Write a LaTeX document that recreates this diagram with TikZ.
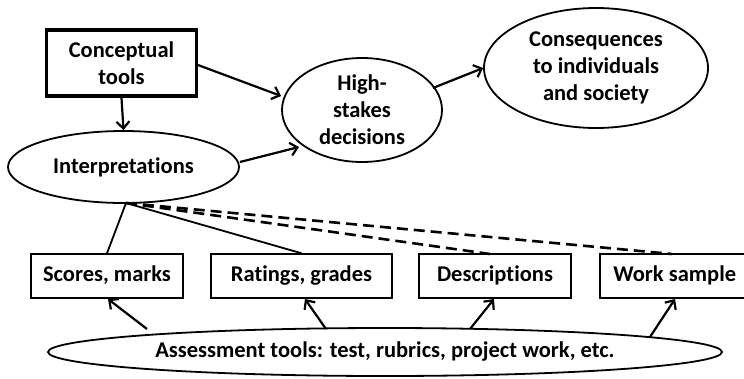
\documentclass[tikz,border=0pt]{standalone}
\usepackage{fontspec}
\setmainfont{Carlito}[Ligatures={NoCommon}]
\usetikzlibrary{shapes.geometric,arrows.meta}
\begin{document}
\begin{tikzpicture}[x=1pt,y=-1pt,
  font=\bfseries\fontsize{22.5}{27}\selectfont,
  ell/.style={draw, ellipse, line width=1.8pt, inner sep=0pt, align=center},
  box/.style={draw, rectangle, line width=1.5pt, inner sep=0pt, minimum height=44, text height=16pt, text depth=5pt},
  arr/.style={line width=2.2pt, -{Straight Barb[length=7pt,width=13pt,line width=2.2pt]}},
  conn/.style={line width=1.8pt},
  dconn/.style={line width=2.6pt, dash pattern=on 11pt off 6pt}]
\useasboundingbox (0,0) rectangle (744,378);
\fill[white] (0,0) rectangle (744,378);
\node[draw, line width=3.8pt, minimum width=150, minimum height=66, align=center, inner sep=0pt] (ct) at (121.5,63) {Conceptual\\tools};
\node[ell, minimum width=231, minimum height=72] (int) at (123.5,167) {Interpretations};
\node[ell, minimum width=160, minimum height=104] (hs) at (362,110) {High-\\stakes\\decisions};
\node[ell, minimum width=224, minimum height=120] (cons) at (596,68) {Consequences\\to individuals\\and society};
\node[box, minimum width=152] (sc) at (107,276) {Scores, marks};
\node[box, minimum width=181] (ra) at (301.5,276) {Ratings, grades};
\node[box, minimum width=152] (de) at (495,276) {Descriptions};
\node[box, minimum width=150, anchor=west] (ws) at (599,276) {Work sample};
\node[ell, minimum width=674, minimum height=48] (as) at (385,352) {Assessment tools: test, rubrics, project work, etc.};
% arrows
\draw[arr] (ct.south) -- (int.north);
\draw[arr] (198,65) -- (hs.west |- 0,96);
\draw[arr] (int.east) ++(0,-5) -- (299,147);
\draw[arr] (433,88) -- (cons.west);
% connectors
\coordinate (j) at (126,203);
\draw[conn] (j) -- (sc.north);
\draw[conn] (j) -- (ra.north);
\draw[dconn] (j) -- (490,254);
\draw[dconn] (j) -- (672,254);
% from assessment
\draw[arr] (147,329) -- (108,299);
\draw[arr] (326,329) -- (305,299);
\draw[arr] (470,329) -- (494,299);
\draw[arr] (650,337) -- (675,299);
\end{tikzpicture}
\end{document}
